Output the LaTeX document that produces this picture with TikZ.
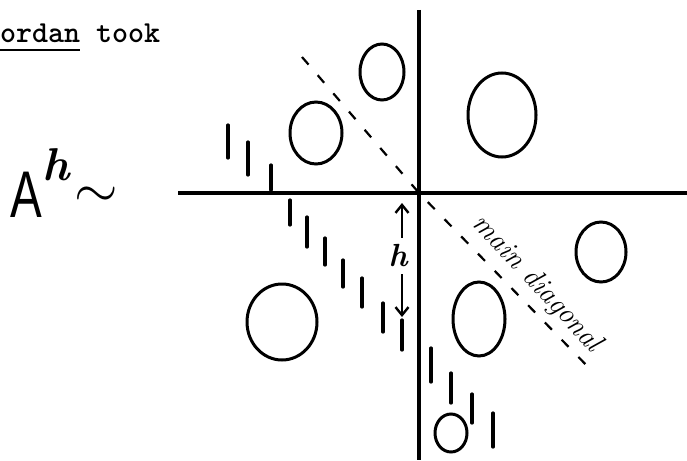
\documentclass[tikz,border=0pt]{standalone}
\usepackage{fix-cm}
\usepackage{fontspec}
\setsansfont{Liberation Sans}
\usepackage{tikz}
\usetikzlibrary{arrows.meta, positioning, shapes.geometric}

\begin{document}
\begin{tikzpicture}[
    x=1pt, y=-1pt,
    every node/.style={inner sep=0pt, outer sep=0pt},
    typed/.style={anchor=base west, font=\ttfamily\bfseries\fontsize{30.5}{32}\selectfont},
    blob/.style={draw, ellipse, line width=3pt, inner sep=0pt},
    axis/.style={line width=3.2pt},
    diag/.style={line width=2.2pt, dash pattern=on 10pt off 14pt},
    tick/.style={line width=3.2pt, line cap=round},
    arrow/.style={-{Straight Barb[length=8pt, width=13pt]}, line width=2.4pt}
]
    \useasboundingbox (0,0) rectangle (687,460);

    % typed line at the top
    \node[typed] (ordan) at (0,42) {ordan};
    \node[typed] (took) at ([xshift=16pt]ordan.base east) {took};
    \draw[line width=2.6pt] ([yshift=-8pt]ordan.base west) -- ([yshift=-8pt]ordan.base east);

    % A^h ~
    \node[anchor=base west, font=\sffamily\fontsize{66}{66}\selectfont, xscale=0.72] (A) at (10,217) {A};
    \node[anchor=base west, font=\itshape\bfseries\fontsize{46}{46}\selectfont] (hsup) at (42,180) {h};
    \node[font=\fontsize{56}{56}\selectfont] (tilde) at (96,197) {$\sim$};

    % axes and main diagonal
    \coordinate (O) at (419,193);
    \coordinate (xl) at (178,193);
    \coordinate (xr) at (687,193);
    \coordinate (yt) at (419,10);
    \coordinate (yb) at (419,460);
    \coordinate (dtop) at (302,57);
    \coordinate (dbot) at (593,372);
    \draw[axis] (xl) -- (xr);
    \draw[axis] (yt) -- (yb);
    \draw[diag] (dtop) -- (O) -- (dbot);
    \node[font=\itshape\fontsize{29}{29}\selectfont, rotate=-47] (maindiag) at (537,284) {main diagonal};

    % blocks
    \node[blob, minimum width=44pt, minimum height=56pt] (c1) at (382,72) {};
    \node[blob, minimum width=52pt, minimum height=62pt] (c2) at (316,133) {};
    \node[blob, minimum width=68pt, minimum height=84pt] (c3) at (502,115) {};
    \node[blob, minimum width=50pt, minimum height=60pt] (c4) at (601,252) {};
    \node[blob, minimum width=52pt, minimum height=74pt] (c5) at (479,319) {};
    \node[blob, minimum width=70pt, minimum height=76pt] (c6) at (282,322) {};
    \node[blob, minimum width=32pt, minimum height=38pt] (c7) at (451,433) {};

    % strokes along the k-th diagonal
    \foreach \x/\ya/\yb in {228/125/158, 248/142/175, 271/165/190, 290/200/225,
        307/217/247, 325/238/265, 343/260/287, 362/278/307, 383/303/332,
        402/320/350, 431/348/382, 451/373/403, 472/394/423, 493/413/447}
        \draw[tick] (\x,\ya) -- (\x,\yb);

    % distance h
    \coordinate (hup) at (402,203);
    \coordinate (hdown) at (402,317);
    \node[font=\itshape\bfseries\fontsize{32}{32}\selectfont, inner sep=7pt] (hlab) at (398,256) {h};
    \draw[arrow] (hlab.north -| hup) -- (hup);
    \draw[arrow] (hlab.south -| hdown) -- (hdown);
\end{tikzpicture}
\end{document}
